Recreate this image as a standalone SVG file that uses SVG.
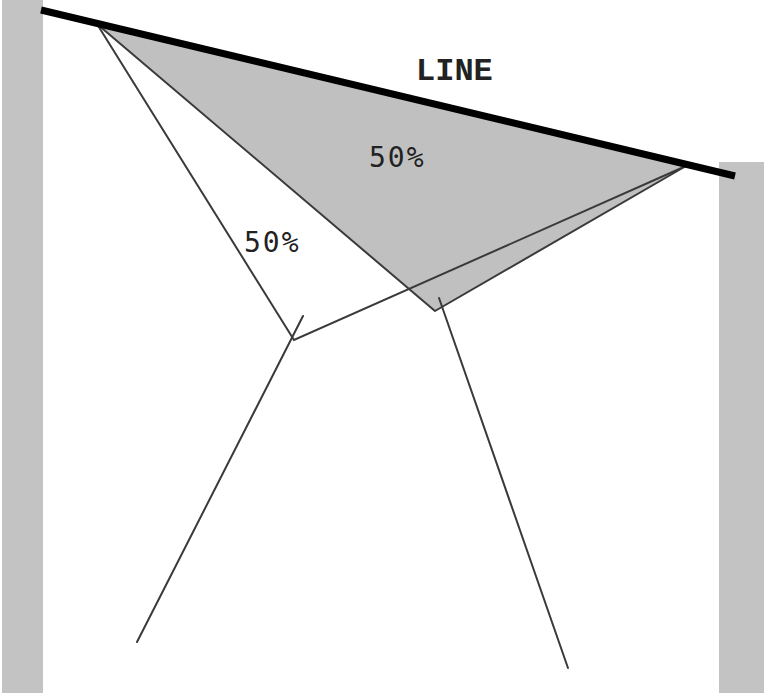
<svg xmlns="http://www.w3.org/2000/svg" width="764" height="693" viewBox="0 0 764 693">
<style>
.bar{fill:#c3c3c3}
.ray{stroke:#3a3a3a;stroke-width:2;fill:none;stroke-linecap:round}
.lbl{font-family:"DejaVu Sans Mono","Liberation Mono",monospace;font-size:28px;letter-spacing:2px;fill:#222}
.title{font-family:"Liberation Mono","Courier New",monospace;font-weight:bold;font-size:32px;fill:#222}
</style>
<rect width="764" height="693" fill="#fff"/>
<g id="walls">
<rect class="bar" x="2" y="0" width="41" height="693"/>
<rect class="bar" x="719" y="162" width="45" height="531"/>
</g>
<g id="region">
<polygon points="97,24 686,166 435,311" fill="#c0c0c0" stroke="#3a3a3a" stroke-width="2" stroke-linejoin="round"/>
</g>
<g id="connectors">
<polyline class="ray" points="97,24 294,340 686,166"/>
<line class="ray" x1="303" y1="316" x2="137" y2="642"/>
<line class="ray" x1="439" y1="298" x2="568" y2="668"/>
</g>
<g id="line">
<line x1="41" y1="10" x2="735" y2="176" stroke="#000" stroke-width="7" stroke-linecap="butt"/>
<text class="title" x="416" y="80">LINE</text>
</g>
<g id="labels">
<text class="lbl" x="369" y="167">50%</text>
<text class="lbl" x="244" y="252">50%</text>
</g>
</svg>
